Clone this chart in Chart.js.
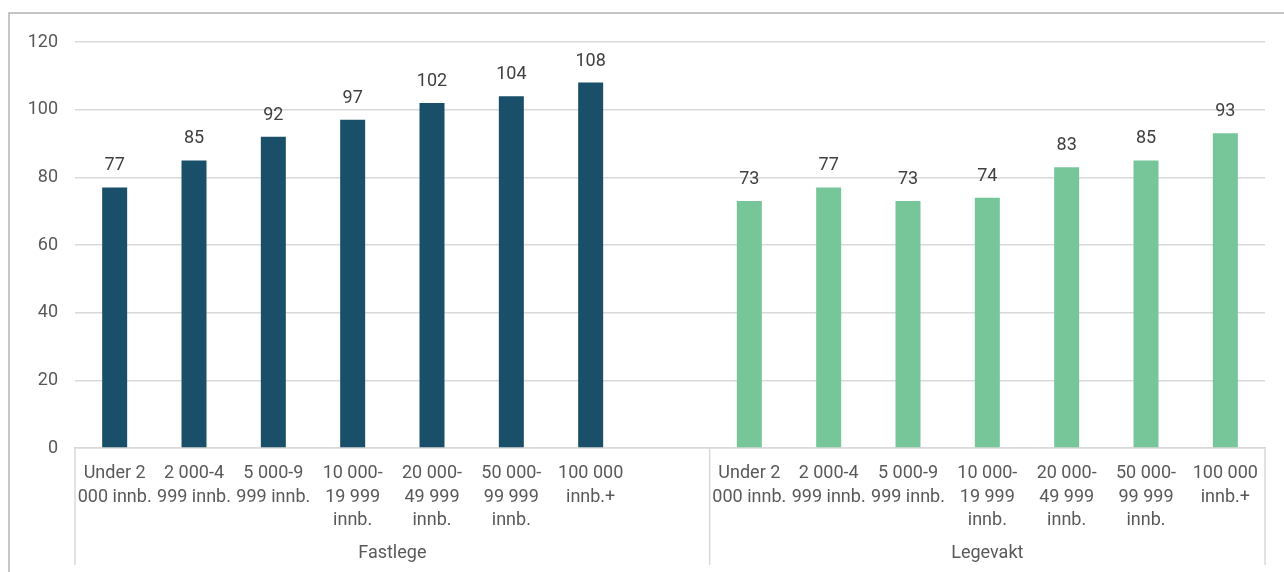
<!DOCTYPE html>
<html lang="no">
<head>
  <meta charset="UTF-8" />
  <title>Fastlege og legevakt etter kommunestørrelse</title>
  <script src="https://cdn.jsdelivr.net/npm/chart.js"></script>
  <style>
    html, body {
      margin: 0;
      padding: 0;
      background: #fff;
    }
    #wrap {
      width: 1284px;
      height: 572px;
      position: relative;
    }
  </style>
</head>
<body>
  <div id="wrap"><canvas id="chart"></canvas></div>

  <script>
    // kommunestørrelse, wrapped the way the axis shows them
    const sizeLabels = [
      ['Under 2', '000 innb.'],
      ['2 000-4', '999 innb.'],
      ['5 000-9', '999 innb.'],
      ['10 000-', '19 999', 'innb.'],
      ['20 000-', '49 999', 'innb.'],
      ['50 000-', '99 999', 'innb.'],
      ['100 000', 'innb.+']
    ];
    const groups = ['Fastlege', 'Legevakt'];
    const fastlege = [77, 85, 92, 97, 102, 104, 108];
    const legevakt = [73, 77, 73, 74, 83, 85, 93];
    const yTicks = [0, 20, 40, 60, 80, 100, 120];

    // one empty slot after the Fastlege block, as in the axis layout
    const labels = [...sizeLabels, '', ...sizeLabels];
    const gap = [null];
    const fastData = [...fastlege, ...gap, ...legevakt.map(() => null)];
    const vaktData = [...fastlege.map(() => null), ...gap, ...legevakt];

    const FONT = 'Roboto, "Noto Sans", sans-serif';
    const SIZE = 18;
    const GRID = '#d9d9d9';

    const frame = {
      id: 'frame',
      beforeDraw(chart) {
        const c = chart.ctx;
        c.save();
        c.strokeStyle = '#b3b3b3';
        c.lineWidth = 1.5;
        c.beginPath();
        c.moveTo(9, chart.height);
        c.lineTo(9, 13);
        c.lineTo(chart.width, 13);
        c.stroke();
        c.restore();
      }
    };

    const groupAxis = {
      id: 'groupAxis',
      afterDraw(chart) {
        const c = chart.ctx;
        const x = chart.scales.x;
        const area = chart.chartArea;
        const bounds = [area.left, x.getPixelForValue(fastlege.length + 0.5), area.right];
        c.save();
        c.strokeStyle = GRID;
        c.lineWidth = 1.5;
        bounds.forEach(px => {
          c.beginPath();
          c.moveTo(px, area.bottom);
          c.lineTo(px, 565);
          c.stroke();
        });
        c.fillStyle = '#595959';
        c.font = SIZE + 'px ' + FONT;
        c.textAlign = 'center';
        c.textBaseline = 'middle';
        groups.forEach((g, i) => {
          c.fillText(g, (bounds[i] + bounds[i + 1]) / 2, 553);
        });
        c.restore();
      }
    };

    const valueLabels = {
      id: 'valueLabels',
      afterDatasetsDraw(chart) {
        const c = chart.ctx;
        c.save();
        c.fillStyle = '#404040';
        c.font = SIZE + 'px ' + FONT;
        c.textAlign = 'center';
        c.textBaseline = 'alphabetic';
        chart.data.datasets.forEach((ds, di) => {
          chart.getDatasetMeta(di).data.forEach((bar, i) => {
            const v = ds.data[i];
            if (v === null) return;
            c.fillText(String(v), bar.x, bar.y - 17);
          });
        });
        c.restore();
      }
    };

    new Chart(document.getElementById('chart'), {
      type: 'bar',
      data: {
        labels: labels,
        datasets: [
          { label: groups[0], data: fastData, backgroundColor: '#1a4f69' },
          { label: groups[1], data: vaktData, backgroundColor: '#76c69a' }
        ]
      },
      options: {
        responsive: true,
        maintainAspectRatio: false,
        animation: false,
        layout: { padding: { top: 42, right: 19, left: 0, bottom: 0 } },
        datasets: {
          bar: { categoryPercentage: 1, barPercentage: 0.315 }
        },
        plugins: {
          legend: { display: false },
          tooltip: { enabled: false }
        },
        scales: {
          x: {
            stacked: true,
            grid: { display: false, drawTicks: false },
            border: { color: GRID, width: 1.5 },
            ticks: {
              color: '#595959',
              font: { family: FONT, size: SIZE, lineHeight: 1.3 },
              padding: 14,
              maxRotation: 0,
              autoSkip: false
            },
            afterFit(scale) { scale.height = 124; }
          },
          y: {
            stacked: true,
            min: 0,
            max: 120,
            afterBuildTicks(scale) {
              scale.ticks = yTicks.map(v => ({ value: v }));
            },
            grid: { color: GRID, lineWidth: 1.5, drawTicks: false },
            border: { display: false },
            ticks: {
              color: '#595959',
              font: { family: FONT, size: SIZE },
              padding: 17
            },
            afterFit(scale) { scale.width = 75; }
          }
        }
      },
      plugins: [frame, groupAxis, valueLabels]
    });
  </script>
</body>
</html>
